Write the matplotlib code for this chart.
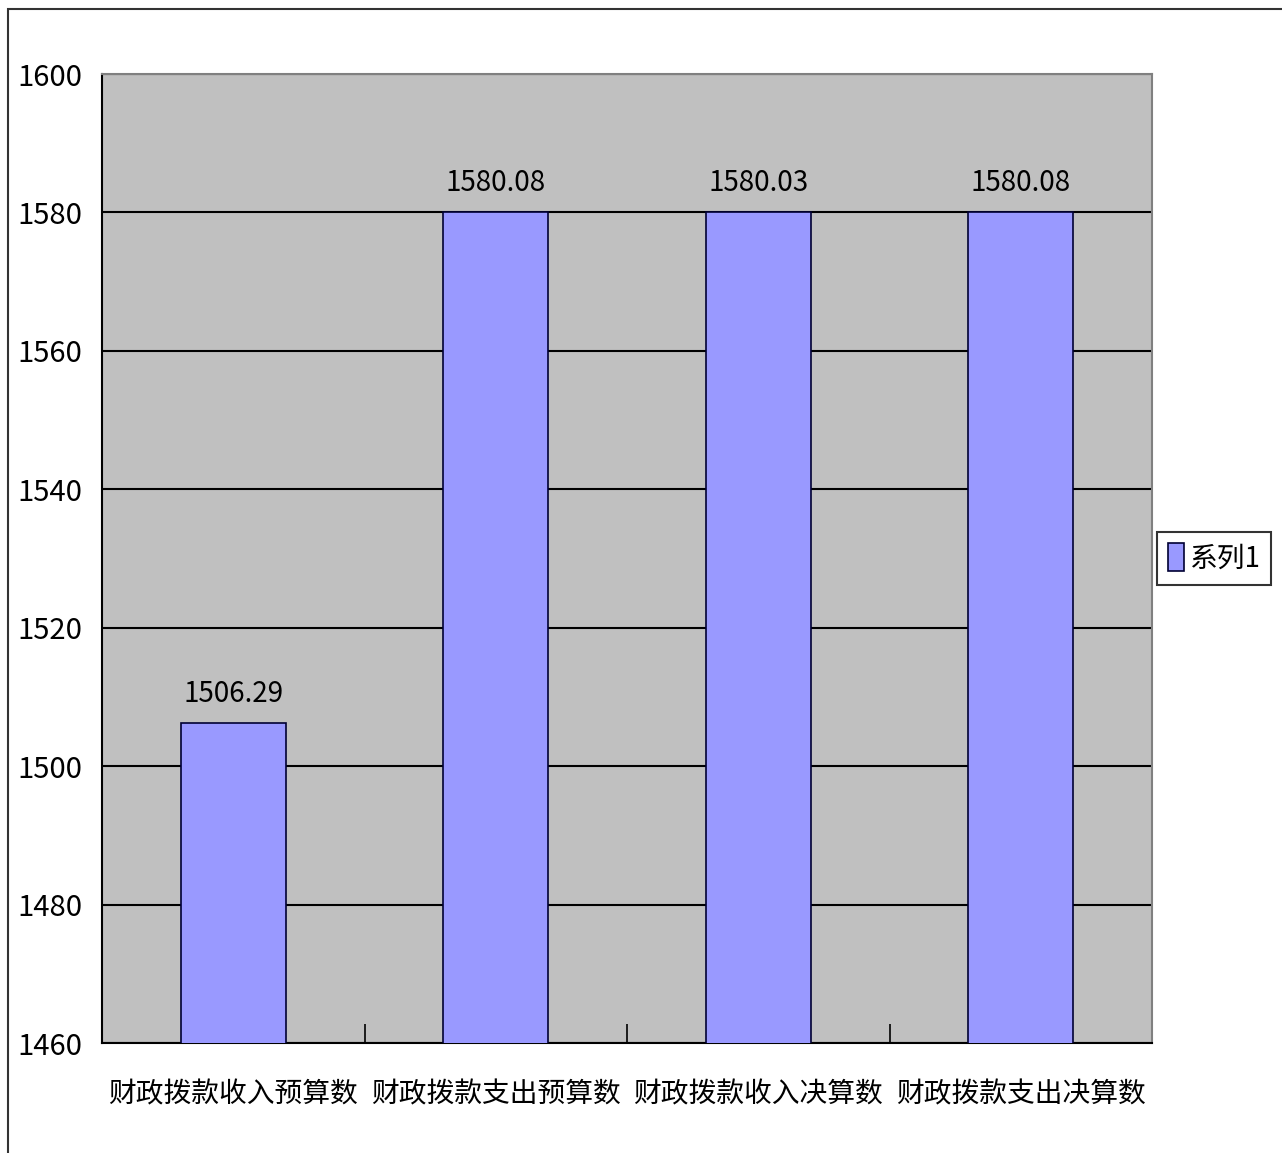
import matplotlib.pyplot as plt
from matplotlib.patches import Rectangle

plt.rcParams['font.family'] = ['Noto Sans CJK SC', 'DejaVu Sans']

categories = ['财政拨款收入预算数', '财政拨款支出预算数', '财政拨款收入决算数', '财政拨款支出决算数']
values = [1506.29, 1580.08, 1580.03, 1580.08]
value_labels = ['1506.29', '1580.08', '1580.03', '1580.08']
y_ticks = [1460, 1480, 1500, 1520, 1540, 1560, 1580, 1600]

fig = plt.figure(figsize=(12.82, 11.53), dpi=100)
ax = fig.add_axes([0.0796, 0.0954, 0.8190, 0.8404])
ax.set_facecolor('#C0C0C0')

x = list(range(len(categories)))
ax.bar(x, values, width=0.40, color='#9999FF',
       edgecolor='#000033', linewidth=1.2, zorder=3, label='系列1')

for xi, v, lab in zip(x, values, value_labels):
    ax.text(xi, v + 2.0, lab, ha='center', va='bottom', fontsize=20, zorder=4)

ax.set_ylim(1460, 1600)
ax.set_xlim(-0.5, 3.5)
ax.set_yticks(y_ticks)
ax.tick_params(axis='y', labelsize=21, length=0, pad=14)
ax.yaxis.grid(True, color='black', linewidth=1.5, zorder=0)
ax.set_axisbelow(True)

ax.set_xticks(x)
ax.set_xticklabels(categories, fontsize=20)
ax.tick_params(axis='x', length=0, pad=26)
ax.set_xticks([0.5, 1.5, 2.5], minor=True)
ax.tick_params(axis='x', which='minor', direction='in', length=14, width=1.2)

for s in ['left', 'bottom']:
    ax.spines[s].set_color('black')
    ax.spines[s].set_linewidth(1.5)
for s in ['top', 'right']:
    ax.spines[s].set_color('#808080')
    ax.spines[s].set_linewidth(1.5)

leg = ax.legend(loc='center left', bbox_to_anchor=(1.005, 0.5), fontsize=20,
                frameon=True, fancybox=False, edgecolor='black',
                handlelength=0.55, handleheight=1.15, handletextpad=0.2,
                borderpad=0.4, borderaxespad=0)
leg.get_frame().set_linewidth(1.5)

fig.patches.append(Rectangle((8 / 1282, -0.05), 1.2, 1.05 - 9 / 1153,
                             transform=fig.transFigure, fill=False,
                             edgecolor='#333333', linewidth=1.5))

fig.savefig('out.png', dpi=100)
